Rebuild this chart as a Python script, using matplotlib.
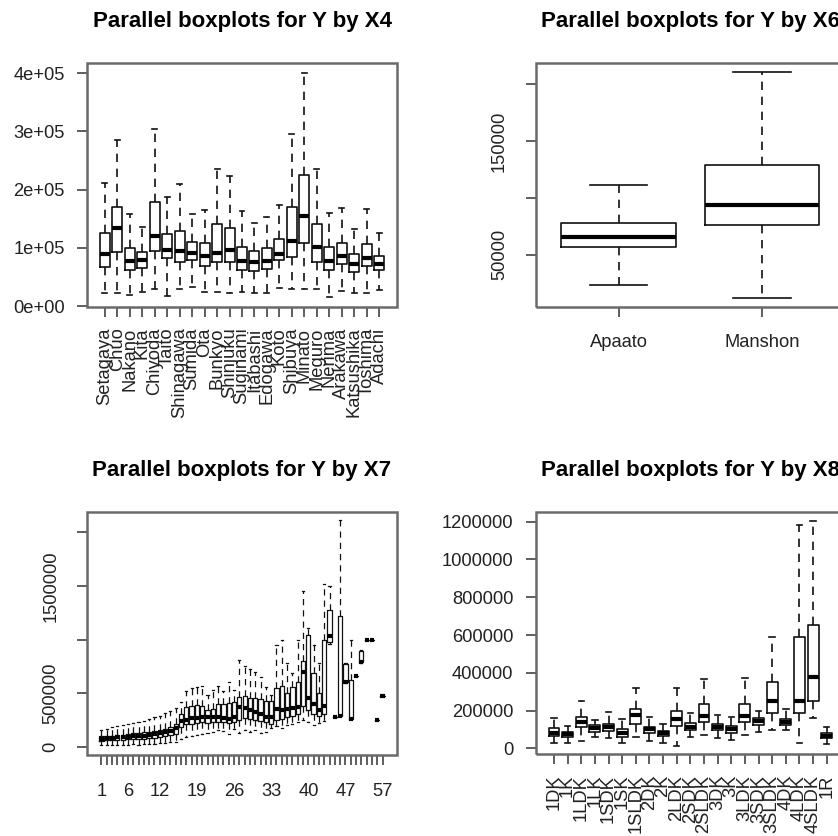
import numpy as np
import matplotlib
matplotlib.use("Agg")
import matplotlib.pyplot as plt
from matplotlib.patches import Rectangle

plt.rcParams['font.family'] = ['Liberation Sans', 'DejaVu Sans']

# ---- data ----
# X4 : ward
x4_names = ["Setagaya", "Chuo", "Nakano", "Kita", "Chiyoda", "Taito", "Shinagawa",
            "Sumida", "Ota", "Bunkyo", "Shinjuku", "Suginami", "Itabashi", "Edogawa",
            "Koto", "Shibuya", "Minato", "Meguro", "Nerima", "Arakawa", "Katsushika",
            "Toshima", "Adachi"]
x4_low = [23, 22, 19, 24, 29, 17, 29, 32, 24, 24, 23, 24, 23, 23, 31, 29, 29, 29, 15, 26, 23, 22, 27]
x4_q1 = [67, 93, 62, 65, 94, 82, 75, 79, 69, 75, 75, 62, 60, 63, 79, 85, 109, 75, 62, 72, 59, 69, 62]
x4_med = [89, 134, 78, 79, 121, 97, 94, 91, 86, 91, 96, 78, 75, 78, 90, 112, 154, 101, 78, 86, 73, 83, 73]
x4_q3 = [125, 170, 99, 93, 179, 123, 129, 110, 109, 141, 135, 102, 94, 99, 116, 171, 226, 141, 101, 109, 89, 107, 86]
x4_high = [211, 285, 158, 136, 305, 187, 209, 159, 165, 236, 223, 163, 142, 153, 173, 296, 400, 236, 160, 168, 132, 167, 126]

# X6 : building type
x6_names = ["Apaato", "Manshon"]
x6_low = [23.3, 12.1]
x6_q1 = [56.5, 76.1]
x6_med = [65.3, 93.5]
x6_q3 = [78.2, 129.0]
x6_high = [111.4, 210.6]

# X7 : numeric levels
x7_levels = list(range(1, 53)) + [54, 57]
x7_low = [10, 10, 12, 15, 15, 18, 20, 10, 20, 25, 28, 30, 35, 40, 45, 70, 90, 100, 110, 120,
          130, 140, 150, 145, 120, 160, 130, 150, 140, 150, 130, 140, 170, 190, 170, 200, 210, 230,
          250, 230, 200, 220, 240, 960, 275, 288, 590, 256, 656, 780, 995, 995, 250, 469]
x7_q1 = [55, 58, 60, 62, 65, 68, 70, 72, 75, 78, 82, 88, 95, 105, 120, 180, 210, 215, 220, 225,
         220, 225, 230, 225, 220, 230, 250, 270, 260, 250, 240, 230, 210, 250, 260, 280, 290, 300,
         380, 340, 300, 290, 300, 980, 275, 288, 600, 256, 656, 790, 995, 995, 250, 469]
x7_med = [75, 78, 82, 85, 88, 92, 95, 98, 102, 108, 115, 122, 135, 148, 170, 240, 250, 265, 270, 275,
          280, 275, 280, 270, 260, 280, 370, 360, 340, 320, 300, 280, 280, 350, 340, 350, 360, 370,
          700, 450, 400, 340, 380, 1030, 275, 288, 605, 256, 656, 790, 995, 995, 250, 469]
x7_q3 = [95, 98, 102, 108, 112, 118, 122, 128, 132, 138, 145, 155, 168, 185, 215, 300, 370, 380, 385, 380,
         340, 350, 400, 400, 410, 420, 460, 470, 450, 450, 440, 430, 430, 550, 570, 500, 560, 600,
         800, 1040, 690, 500, 1000, 1280, 275, 1220, 770, 625, 656, 895, 995, 995, 250, 469]
x7_high = [150, 165, 180, 190, 200, 210, 220, 230, 240, 260, 275, 290, 310, 330, 360, 420, 520, 545, 555, 565,
           480, 530, 570, 520, 600, 530, 810, 750, 720, 700, 650, 560, 480, 950, 1000, 780, 690, 1000,
           1450, 1110, 950, 780, 1520, 1500, 275, 2120, 780, 1000, 656, 900, 995, 995, 250, 469]
x7_shown = ["1", "6", "12", "19", "26", "33", "40", "47", "57"]

# X8 : layout
x8_names = ["1DK", "1K", "1LDK", "1LK", "1SDK", "1SK", "1SLDK", "2DK", "2K", "2LDK", "2SDK",
            "2SLDK", "3DK", "3K", "3LDK", "3SDK", "3SLDK", "4DK", "4LDK", "4SLDK", "1R"]
x8_low = [30, 30, 41, 62, 53, 30, 62, 41, 30, 12, 62, 71, 53, 44, 71, 88, 97, 97, 30, 159, 23]
x8_q1 = [65, 62, 111, 88, 94, 62, 129, 79, 65, 118, 97, 141, 97, 79, 141, 124, 189, 124, 189, 252, 53]
x8_med = [83, 74, 138, 106, 111, 83, 176, 101, 79, 154, 115, 171, 115, 101, 173, 146, 250, 141, 252, 379, 65]
x8_q3 = [106, 88, 164, 124, 129, 101, 210, 115, 94, 199, 132, 233, 129, 118, 233, 159, 349, 157, 591, 651, 83]
x8_high = [159, 118, 250, 150, 194, 154, 318, 168, 129, 318, 185, 365, 176, 164, 371, 199, 591, 206, 1182, 1205, 115]


def make_stats(low, q1, med, q3, high, scale):
    return [dict(whislo=a * scale, q1=b * scale, med=c * scale, q3=d * scale,
                 whishi=e * scale, fliers=[])
            for a, b, c, d, e in zip(low, q1, med, q3, high)]


def rbox(ax, stats, title):
    n = len(stats)
    ax.bxp(stats, positions=np.arange(1, n + 1), widths=0.8, capwidths=0.4,
           showfliers=False,
           boxprops=dict(color='#111111', lw=1.2),
           medianprops=dict(color='black', lw=3, solid_capstyle='butt'),
           whiskerprops=dict(color='#111111', lw=1.2, linestyle=(0, (5, 4))),
           capprops=dict(color='#111111', lw=1.2))
    pad = 0.04 * n
    ax.set_xlim(0.5 - pad, n + 0.5 + pad)
    # R style frame
    for s in ax.spines.values():
        s.set_visible(False)
    ax.add_patch(Rectangle((0, 0), 1, 1, transform=ax.transAxes, fill=False,
                           edgecolor='#6a6a6a', lw=1.8, clip_on=False, zorder=5))
    ax.spines['left'].set_visible(True)
    ax.spines['bottom'].set_visible(True)
    ax.spines['left'].set_color('#333333')
    ax.spines['bottom'].set_color('#333333')
    ax.spines['bottom'].set_bounds(1, n)
    ax.tick_params(length=7, width=1.1, color='#333333', labelsize=13.2,
                   labelcolor='#222222')
    ax.set_title(title, fontsize=16, fontweight='bold', pad=26)


fig = plt.figure(figsize=(8.38, 8.36), dpi=100)
W, H = 838.0, 836.0


def place(l, t, r, b):
    return fig.add_axes([l / W, 1 - b / H, (r - l) / W, (b - t) / H])


# panel 1
ax1 = place(87, 63.3, 397, 306.7)
rbox(ax1, make_stats(x4_low, x4_q1, x4_med, x4_q3, x4_high, 1000), "Parallel boxplots for Y by X4")
ax1.set_ylim(-1000, 417000)
yt = [0, 100000, 200000, 300000, 400000]
ax1.set_yticks(yt)
ax1.set_yticklabels(["0e+00", "1e+05", "2e+05", "3e+05", "4e+05"])
ax1.spines['left'].set_bounds(0, 400000)
ax1.set_xticks(np.arange(1, len(x4_names) + 1))
ax1.set_xticklabels(x4_names, rotation=90)
ax1.tick_params(axis='y', pad=9)
ax1.tick_params(axis='x', pad=8)

# panel 2
ax2 = place(535.7, 63.3, 845, 306.7)
rbox(ax2, make_stats(x6_low, x6_q1, x6_med, x6_q3, x6_high, 1000), "Parallel boxplots for Y by X6")
ax2.set_ylim(4200, 218500)
ax2.set_yticks([50000, 100000, 150000, 200000])
ax2.set_yticklabels(["50000", "", "150000", ""], rotation=90, va='center')
ax2.spines['left'].set_bounds(50000, 200000)
ax2.set_xticks([1, 2])
ax2.set_xticklabels(x6_names)
ax2.tick_params(axis='y', pad=13)
ax2.tick_params(axis='x', pad=13)

# panel 3
ax3 = place(87.3, 511.7, 396.7, 755)
rbox(ax3, make_stats(x7_low, x7_q1, x7_med, x7_q3, x7_high, 1000), "Parallel boxplots for Y by X7")
for art in ax3.lines:
    if art.get_linewidth() == 1.2:
        art.set_linewidth(0.9)
ax3.set_ylim(-79000, 2194000)
ax3.set_yticks([0, 500000, 1000000, 1500000, 2000000])
ax3.set_yticklabels(["0", "500000", "", "1500000", ""], rotation=90, va='center')
ax3.spines['left'].set_bounds(0, 2000000)
x7_lab = [str(v) if str(v) in x7_shown else "" for v in x7_levels]
ax3.set_xticks(np.arange(1, len(x7_levels) + 1))
ax3.set_xticklabels(x7_lab)
ax3.tick_params(axis='y', pad=13)
ax3.tick_params(axis='x', pad=13)

# panel 4
ax4 = place(535.7, 511.7, 845, 754)
rbox(ax4, make_stats(x8_low, x8_q1, x8_med, x8_q3, x8_high, 1000), "Parallel boxplots for Y by X8")
ax4.set_ylim(-30000, 1253000)
yt4 = np.arange(0, 1200001, 200000)
ax4.set_yticks(yt4)
ax4.set_yticklabels([str(v) for v in yt4])
ax4.spines['left'].set_bounds(0, 1200000)
ax4.set_xticks(np.arange(1, len(x8_names) + 1))
ax4.set_xticklabels(x8_names, rotation=90)
ax4.tick_params(axis='y', pad=9)
ax4.tick_params(axis='x', pad=8)

fig.savefig("out.png", dpi=100)
